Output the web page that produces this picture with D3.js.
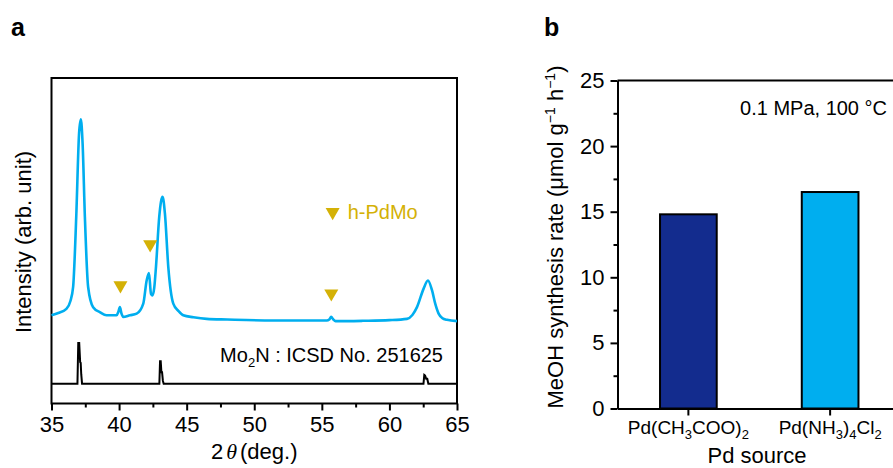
<!DOCTYPE html>
<html>
<head>
<meta charset="utf-8">
<script src="https://cdn.jsdelivr.net/npm/d3@7"></script>
<style>
  body { margin: 0; background: #fff; }
  svg { display: block; font-family: "Liberation Sans", Arial, sans-serif; }
</style>
</head>
<body>
<svg id="fig" width="893" height="468"></svg>
<script>
// panel a: XRD pattern (2theta, intensity in arb. units)
const sampleTheta = [35, 35.5, 36.1, 36.4, 36.6, 36.83, 37.04, 37.17, 37.3, 37.47, 37.71, 38.08, 38.6, 39.07, 39.81, 39.95, 40.06, 40.18, 40.3, 40.8, 41.3, 41.79, 42.04, 42.21, 42.36, 42.48, 42.6, 42.73, 42.97, 43.1, 43.22, 43.39, 43.64, 44.01, 44.4, 44.75, 45.5, 46.48, 48, 51.4, 53.5, 55.37, 55.55, 55.69, 55.85, 56.01, 58, 60, 61.3, 61.7, 62.04, 62.53, 62.85, 63.15, 63.4, 63.64, 63.9, 64.26, 65];
const sampleI = [27.1, 27.8, 29.1, 31.5, 35.8, 57.3, 83, 87.3, 80, 57.3, 35.8, 29.6, 28, 27.1, 27.1, 28.2, 29.6, 27.6, 26.6, 27.1, 27.6, 30.7, 37.8, 40.1, 33.7, 33.2, 35.5, 42, 57.3, 62, 63.5, 58.4, 42, 30.7, 28.4, 27.1, 26.5, 26, 25.8, 25.5, 25.5, 25.5, 25.8, 26.6, 25.8, 25.3, 25.4, 25.6, 26, 27.2, 29.6, 35.3, 37.8, 34.8, 30.5, 27.6, 26.3, 25.7, 25.3];

// reference pattern Mo2N (ICSD No. 251625)
const refTheta = [35, 36.92, 36.98, 37.05, 37.12, 37.16, 37.2, 37.26, 42.98, 43.03, 43.08, 43.13, 43.18, 43.24, 43.3, 62.52, 62.58, 62.64, 62.72, 62.8, 62.88, 65];
const refI = [6.06, 6.1, 18.6, 18.6, 12.7, 12.5, 9, 6.1, 6.06, 13, 13, 9.6, 9.6, 7, 6.06, 6.06, 8.8, 8.6, 7.6, 7.6, 6.06, 6.06];

// h-PdMo markers
const markTheta = [40.1, 42.3, 55.7];
const markI = [36.3, 48.9, 33.8];

const xTicksA = [35, 40, 45, 50, 55, 60, 65];
const xMinorA = [37.5, 42.5, 47.5, 52.5, 57.5, 62.5];

// panel b: MeOH synthesis rate
const sources = ["Pd(CH3COO)2", "Pd(NH3)4Cl2"];
const rates = [14.8, 16.5];
const barColors = ["#132c8e", "#00aeef"];
const yTicksB = [0, 5, 10, 15, 20, 25];
const yMinorB = [2.5, 7.5, 12.5, 17.5, 22.5];

const svg = d3.select("#fig");
const gold = "#d4b106";
const fsBig = 22, fsNote = 20;

// ---------- panel a ----------
const ax = { left: 51.5, right: 457, top: 78, bottom: 403.5 };
const x = d3.scaleLinear().domain([35, 65]).range([ax.left, ax.right]);
const y = d3.scaleLinear().domain([0, 100]).range([ax.bottom, ax.top]);

const gA = svg.append("g");

gA.append("rect")
  .attr("x", ax.left).attr("y", ax.top)
  .attr("width", ax.right - ax.left).attr("height", ax.bottom - ax.top)
  .attr("fill", "none").attr("stroke", "#000").attr("stroke-width", 2);

gA.append("g")
  .attr("transform", `translate(0,${ax.bottom})`)
  .call(d3.axisBottom(x).tickValues(xMinorA).tickSize(4).tickFormat(""))
  .call(g => g.select(".domain").remove())
  .call(g => g.selectAll("line").attr("stroke-width", 2));

gA.append("g")
  .attr("transform", `translate(0,${ax.bottom})`)
  .call(d3.axisBottom(x).tickValues(xTicksA).tickSize(7).tickPadding(6).tickFormat(d3.format("d")))
  .call(g => g.select(".domain").remove())
  .call(g => g.selectAll("line").attr("stroke-width", 2))
  .call(g => g.selectAll("text").attr("font-size", fsBig).attr("fill", "#000")
    .attr("font-family", "Liberation Sans, Arial, sans-serif"));

const lineA = d3.line().x(d => x(d[0])).y(d => y(d[1]));

gA.append("path")
  .datum(refTheta.map((t, i) => [t, refI[i]]))
  .attr("d", lineA)
  .attr("fill", "none").attr("stroke", "#000").attr("stroke-width", 2);

gA.append("path")
  .datum(sampleTheta.map((t, i) => [t, sampleI[i]]))
  .attr("d", lineA.curve(d3.curveMonotoneX))
  .attr("fill", "none").attr("stroke", "#00aeef").attr("stroke-width", 2.6)
  .attr("stroke-linejoin", "round");

const tri = d3.symbol().type(d3.symbolTriangle).size(85);
gA.selectAll(".mark")
  .data(markTheta.map((t, i) => [t, markI[i]]))
  .join("path")
  .attr("class", "mark")
  .attr("d", tri)
  .attr("transform", d => `translate(${x(d[0])},${y(d[1])}) rotate(180)`)
  .attr("fill", gold);

// legend for markers
gA.append("path")
  .attr("d", tri)
  .attr("transform", `translate(${x(55.8)},${y(58.8)}) rotate(180)`)
  .attr("fill", gold);
gA.append("text")
  .attr("x", x(55.8) + 15).attr("y", y(58.8) + 7)
  .attr("font-size", fsNote).attr("fill", gold)
  .text("h-PdMo");

const refLabel = gA.append("text")
  .attr("x", 443).attr("y", 362)
  .attr("text-anchor", "end")
  .attr("font-size", fsNote);
refLabel.append("tspan").text("Mo");
refLabel.append("tspan").attr("font-size", 13).attr("dy", 5).text("2");
refLabel.append("tspan").attr("dy", -5).text("N : ICSD No. 251625");

const xTitle = gA.append("text")
  .attr("x", (ax.left + ax.right) / 2).attr("y", 459)
  .attr("text-anchor", "middle").attr("font-size", fsBig);
xTitle.append("tspan").text("2");
xTitle.append("tspan").attr("dx", 3).attr("font-style", "italic")
  .attr("font-family", "Liberation Serif, Times New Roman, serif").text("θ");
xTitle.append("tspan").attr("dx", 3).text("(deg.)");

gA.append("text")
  .attr("transform", "rotate(-90)")
  .attr("x", -242).attr("y", 31)
  .attr("text-anchor", "middle").attr("font-size", fsBig)
  .text("Intensity (arb. unit)");

gA.append("text")
  .attr("x", 11).attr("y", 36)
  .attr("font-size", 25).attr("font-weight", "bold")
  .text("a");

// ---------- panel b ----------
const bx = { left: 617.5, right: 901, top: 80.5, bottom: 408.5 };
const xb = d3.scaleBand().domain(sources).range([bx.left, bx.right])
  .paddingInner(0.6).paddingOuter(0.3);
const yb = d3.scaleLinear().domain([0, 25]).range([bx.bottom, bx.top]);

const gB = svg.append("g");

gB.selectAll(".bar")
  .data(sources)
  .join("rect")
  .attr("class", "bar")
  .attr("x", d => xb(d))
  .attr("y", (d, i) => yb(rates[i]))
  .attr("width", xb.bandwidth())
  .attr("height", (d, i) => yb(0) - yb(rates[i]))
  .attr("fill", (d, i) => barColors[i])
  .attr("stroke", "#000").attr("stroke-width", 2);

gB.append("line")
  .attr("x1", bx.left).attr("x2", bx.right)
  .attr("y1", bx.top).attr("y2", bx.top)
  .attr("stroke", "#000").attr("stroke-width", 2);

gB.append("g")
  .attr("transform", `translate(${bx.left},0)`)
  .call(d3.axisLeft(yb).tickValues(yMinorB).tickSize(4).tickFormat(""))
  .call(g => g.select(".domain").remove())
  .call(g => g.selectAll("line").attr("stroke-width", 2));

gB.append("g")
  .attr("transform", `translate(${bx.left},0)`)
  .call(d3.axisLeft(yb).tickValues(yTicksB).tickSize(7).tickPadding(6).tickSizeOuter(0))
  .call(g => g.select(".domain").attr("stroke-width", 2))
  .call(g => g.selectAll("line").attr("stroke-width", 2))
  .call(g => g.selectAll("text").attr("font-size", fsBig).attr("fill", "#000")
    .attr("font-family", "Liberation Sans, Arial, sans-serif"));

gB.append("g")
  .attr("transform", `translate(0,${bx.bottom})`)
  .call(d3.axisBottom(xb).tickSize(7).tickSizeOuter(0).tickFormat(""))
  .call(g => g.select(".domain").attr("stroke-width", 2))
  .call(g => g.selectAll("line").attr("stroke-width", 2));

// category labels with subscripts
const labelParts = [
  [["Pd(CH", 0], ["3", 1], ["COO)", 0], ["2", 1]],
  [["Pd(NH", 0], ["3", 1], [")", 0], ["4", 1], ["Cl", 0], ["2", 1]]
];
sources.forEach((s, i) => {
  const t = gB.append("text")
    .attr("x", xb(s) + xb.bandwidth() / 2).attr("y", 434)
    .attr("text-anchor", "middle").attr("font-size", 19);
  let prev = 0;
  labelParts[i].forEach(([txt, sub]) => {
    t.append("tspan")
      .attr("dy", sub ? 5 - prev : -prev)
      .attr("font-size", sub ? 13 : 19)
      .text(txt);
    prev = sub ? 5 : 0;
  });
});

gB.append("text")
  .attr("x", 757).attr("y", 463)
  .attr("text-anchor", "middle").attr("font-size", fsBig)
  .text("Pd source");

const yTitleB = gB.append("text")
  .attr("transform", "rotate(-90)")
  .attr("x", -237).attr("y", 563)
  .attr("text-anchor", "middle").attr("font-size", fsBig);
yTitleB.append("tspan").text("MeOH synthesis rate (μmol g");
yTitleB.append("tspan").attr("font-size", 14).attr("dy", -8).text("−1");
yTitleB.append("tspan").attr("dy", 8).text(" h");
yTitleB.append("tspan").attr("font-size", 14).attr("dy", -8).text("−1");
yTitleB.append("tspan").attr("dy", 8).text(")");

gB.append("text")
  .attr("x", 887).attr("y", 115)
  .attr("text-anchor", "end").attr("font-size", fsNote)
  .text("0.1 MPa, 100 °C");

gB.append("text")
  .attr("x", 544).attr("y", 36)
  .attr("font-size", 25).attr("font-weight", "bold")
  .text("b");
</script>
</body>
</html>
